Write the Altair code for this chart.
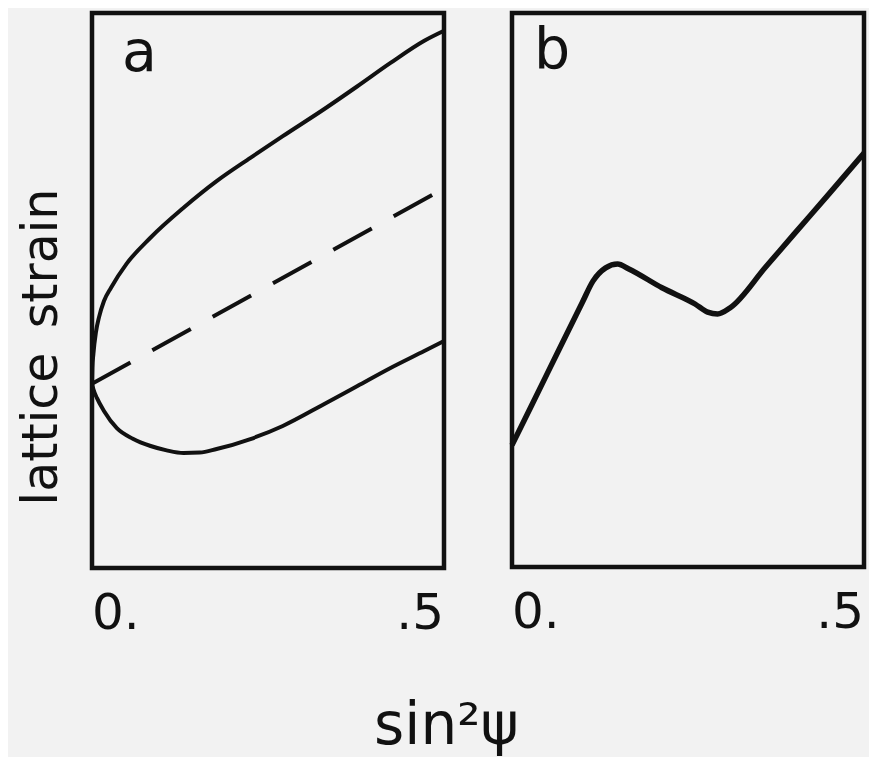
import altair as alt
import pandas as pd

x_ticks = [0.0, 0.5]
tick_labels = ["0.", ".5"]

a_upper_x = [0.0, 0.0005, 0.002, 0.0056, 0.01, 0.017, 0.027, 0.049, 0.083, 0.130,
             0.177, 0.225, 0.271, 0.330, 0.377, 0.424, 0.472, 0.5]
a_upper_y = [0.332, 0.360, 0.386, 0.425, 0.452, 0.481, 0.505, 0.548, 0.595, 0.649,
             0.697, 0.739, 0.778, 0.827, 0.868, 0.910, 0.950, 0.968]
a_lower_x = [0.0, 0.002, 0.0071, 0.017, 0.0353, 0.058, 0.0833, 0.106, 0.130, 0.153,
             0.177, 0.225, 0.271, 0.330, 0.377, 0.424, 0.472, 0.5]
a_lower_y = [0.332, 0.322, 0.306, 0.283, 0.252, 0.233, 0.2198, 0.212, 0.2072, 0.208,
             0.2144, 0.2324, 0.2559, 0.2955, 0.3279, 0.3604, 0.391, 0.409]
a_dash_x = [0.0, 0.49]
a_dash_y = [0.332, 0.677]

b_x = [0.0, 0.05, 0.1, 0.115, 0.133, 0.150, 0.166, 0.213, 0.26, 0.278, 0.292, 0.31,
       0.36, 0.40, 0.45, 0.5]
b_y = [0.220, 0.349, 0.478, 0.516, 0.540, 0.547, 0.538, 0.504, 0.4747, 0.460, 0.4567,
       0.468, 0.541, 0.600, 0.673, 0.747]

panel_labels = ["a", "b"]
y_title = "lattice\u2002strain"
x_title = "sin\u00b2\u03c8"

FONT = "DejaVu Sans"
INK = "#111111"
BG = "#f2f2f2"

solid_a = pd.DataFrame(
    {"x": a_upper_x + a_lower_x,
     "y": a_upper_y + a_lower_y,
     "branch": ["upper"] * len(a_upper_x) + ["lower"] * len(a_lower_x)}
)
dash_a = pd.DataFrame({"x": a_dash_x, "y": a_dash_y})
line_b = pd.DataFrame({"x": b_x, "y": b_y})
tick_first = pd.DataFrame({"x": x_ticks[:1], "t": tick_labels[:1]})
tick_last = pd.DataFrame({"x": x_ticks[-1:], "t": tick_labels[-1:]})

x_scale = alt.Scale(domain=[0, 0.5], nice=False, zero=False)
y_scale = alt.Scale(domain=[0, 1], nice=False, zero=False)
X = alt.X("x:Q", scale=x_scale, axis=None)
Y = alt.Y("y:Q", scale=y_scale, axis=None)


def tick_layers(h):
    base_y = h + 61  # label baseline below the frame
    first = alt.Chart(tick_first).mark_text(
        font=FONT, fontSize=50, color=INK, align="left", baseline="alphabetic"
    ).encode(x=X, y=alt.value(base_y), text="t:N")
    last = alt.Chart(tick_last).mark_text(
        font=FONT, fontSize=50, color=INK, align="right", baseline="alphabetic"
    ).encode(x=X, y=alt.value(base_y), text="t:N")
    return [first, last]


def panel_label(txt, dx, dy):
    return alt.Chart(pd.DataFrame({"t": [txt]})).mark_text(
        font=FONT, fontSize=57, color=INK, align="left", baseline="alphabetic"
    ).encode(x=alt.value(dx), y=alt.value(dy), text="t:N")


solid = alt.Chart(solid_a).mark_line(
    color=INK, strokeWidth=4, interpolate="monotone", strokeJoin="round"
).encode(x=X, y=Y, detail="branch:N")

dashed = alt.Chart(dash_a).mark_line(
    color=INK, strokeWidth=4, strokeDash=[44, 25], strokeJoin="round"
).encode(x=X, y=Y)

ytitle = alt.Chart(pd.DataFrame({"t": [y_title]})).mark_text(
    font=FONT, fontSize=49, color=INK, align="center", baseline="alphabetic",
    angle=270
).encode(x=alt.value(-35), y=alt.value(334), text="t:N")

HA, HB = 555, 554
left = alt.layer(solid, dashed, panel_label(panel_labels[0], 30, 58), ytitle,
                 *tick_layers(HA)).properties(width=352, height=HA)

line_b_chart = alt.Chart(line_b).mark_line(
    color=INK, strokeWidth=5.5, interpolate="monotone", strokeJoin="round"
).encode(x=X, y=Y)

right = alt.layer(line_b_chart, panel_label(panel_labels[1], 22, 55),
                  *tick_layers(HB)).properties(width=352, height=HB)

chart = alt.hconcat(left, right, spacing=58).properties(
    title=alt.TitleParams(x_title, orient="bottom", anchor="middle", font=FONT,
                          fontSize=58, fontWeight="normal", color=INK, offset=57,
                          dx=4),
    background=BG,
    padding={"left": 7, "top": 2, "right": 0, "bottom": 0},
).configure_view(
    stroke=INK, strokeWidth=4.5
)

chart.save("out.html", embed_options={"renderer": "svg", "actions": False})
